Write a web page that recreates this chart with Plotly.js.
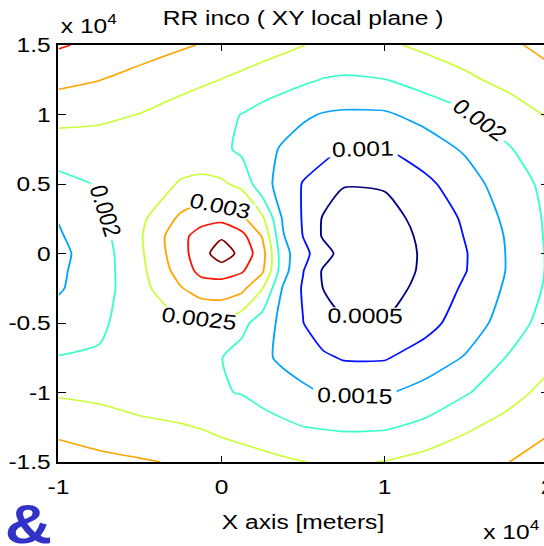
<!DOCTYPE html>
<html>
<head>
<meta charset="utf-8">
<script src="https://cdn.plot.ly/plotly-3.0.1.min.js"></script>
<style>
html, body { margin: 0; padding: 0; background: #ffffff; overflow: hidden; width: 544px; height: 546px; }
#plot { width: 480px; height: 546px; transform: scaleX(1.17); transform-origin: 0 0; }
</style>
</head>
<body>
<div id="plot"></div>
<script>
// Grid positions (meters)
const xMeters = [-10000, -7500, -5000, -2500, -1250, 0, 1250, 2500, 3750, 5000, 6250, 7500, 10000, 12500, 15000, 17500, 20000];
const yMeters = [-15000, -12500, -10000, -7500, -5000, -2500, -1250, 0, 1250, 2500, 5000, 7500, 10000, 12500, 15000];

// RR inco values, one row per y value (bottom to top)
const rrInco = [
  [0.00320, 0.00313, 0.00305, 0.00295, 0.00288, 0.00280, 0.00273, 0.00266, 0.00258, 0.00251, 0.00245, 0.00242, 0.00252, 0.00268, 0.00283, 0.00299, 0.00314],
  [0.00289, 0.00274, 0.00260, 0.00254, 0.00248, 0.00238, 0.00229, 0.00219, 0.00210, 0.00201, 0.00197, 0.00194, 0.00195, 0.00212, 0.00243, 0.00268, 0.00295],
  [0.00243, 0.00238, 0.00230, 0.00218, 0.00210, 0.00203, 0.00198, 0.00185, 0.00172, 0.00160, 0.00148, 0.00144, 0.00145, 0.00167, 0.00196, 0.00230, 0.00265],
  [0.00202, 0.00205, 0.00218, 0.00218, 0.00212, 0.00201, 0.00180, 0.00160, 0.00141, 0.00125, 0.00108, 0.00096, 0.00096, 0.00123, 0.00154, 0.00202, 0.00237],
  [0.00170, 0.00192, 0.00225, 0.00245, 0.00248, 0.00245, 0.00215, 0.00175, 0.00137, 0.00101, 0.00068, 0.00054, 0.00053, 0.00083, 0.00125, 0.00170, 0.00222],
  [0.00145, 0.00179, 0.00232, 0.00297, 0.00322, 0.00328, 0.00313, 0.00252, 0.00147, 0.00095, 0.00049, 0.00032, 0.00028, 0.00066, 0.00108, 0.00157, 0.00207],
  [0.00142, 0.00177, 0.00236, 0.00321, 0.00365, 0.00370, 0.00355, 0.00308, 0.00170, 0.00102, 0.00044, 0.00028, 0.00024, 0.00058, 0.00099, 0.00152, 0.00204],
  [0.00138, 0.00176, 0.00241, 0.00333, 0.00377, 0.00430, 0.00383, 0.00321, 0.00170, 0.00115, 0.00070, 0.00030, 0.00022, 0.00057, 0.00098, 0.00152, 0.00204],
  [0.00145, 0.00182, 0.00244, 0.00336, 0.00370, 0.00392, 0.00365, 0.00297, 0.00155, 0.00099, 0.00044, 0.00028, 0.00025, 0.00060, 0.00103, 0.00154, 0.00206],
  [0.00152, 0.00187, 0.00238, 0.00310, 0.00333, 0.00338, 0.00310, 0.00260, 0.00146, 0.00096, 0.00045, 0.00033, 0.00032, 0.00066, 0.00108, 0.00160, 0.00207],
  [0.00187, 0.00203, 0.00229, 0.00253, 0.00260, 0.00257, 0.00238, 0.00165, 0.00135, 0.00097, 0.00079, 0.00052, 0.00055, 0.00088, 0.00130, 0.00173, 0.00213],
  [0.00222, 0.00229, 0.00234, 0.00232, 0.00225, 0.00212, 0.00189, 0.00166, 0.00145, 0.00129, 0.00113, 0.00097, 0.00099, 0.00127, 0.00156, 0.00195, 0.00228],
  [0.00268, 0.00259, 0.00249, 0.00230, 0.00220, 0.00209, 0.00199, 0.00184, 0.00170, 0.00157, 0.00147, 0.00143, 0.00144, 0.00165, 0.00193, 0.00223, 0.00254],
  [0.00312, 0.00301, 0.00284, 0.00266, 0.00258, 0.00249, 0.00239, 0.00229, 0.00219, 0.00208, 0.00198, 0.00195, 0.00199, 0.00222, 0.00241, 0.00264, 0.00289],
  [0.00355, 0.00338, 0.00322, 0.00306, 0.00298, 0.00289, 0.00280, 0.00270, 0.00261, 0.00251, 0.00240, 0.00233, 0.00243, 0.00259, 0.00276, 0.00293, 0.00310]
];

// Contour levels and their line colours (jet)
const levelStart = 0.0005;
const levelEnd = 0.004;
const levelStep = 0.0005;
const levelColors = ['#000080', '#0012ff', '#00a4ff', '#36ffc8', '#c8ff36', '#ffa400', '#ff1200', '#800000'];

// Axis ticks
const xTickVals = [-10000, 0, 10000, 20000];
const xTickText = ['-1', '0', '1', '2'];
const yTickVals = [-15000, -10000, -5000, 0, 5000, 10000, 15000];
const yTickText = ['-1.5', '-1', '-0.5', '0', '0.5', '1', '1.5'];

const FONT = 'Liberation Sans, Arial, Helvetica, sans-serif';

const colorscale = levelColors.map((c, i) => [i / (levelColors.length - 1), c]);

const trace = {
  type: 'contour',
  x: xMeters,
  y: yMeters,
  z: rrInco,
  autocontour: false,
  contours: {
    start: levelStart,
    end: levelEnd,
    size: levelStep,
    coloring: 'lines',
    showlabels: true,
    labelformat: '.4~f',
    labelfont: { family: FONT, size: 21, color: '#000000' }
  },
  colorscale: colorscale,
  showscale: false,
  line: { width: 1.6, smoothing: 0.6 },
  hoverinfo: 'skip'
};

const axisCommon = {
  ticks: 'inside',
  ticklen: 6,
  tickwidth: 1,
  tickcolor: '#000000',
  showline: true,
  linecolor: '#000000',
  linewidth: 2.4,
  mirror: 'allticks',
  showgrid: false,
  zeroline: false,
  tickfont: { family: FONT, size: 21, color: '#000000' }
};

const layout = {
  width: 480,
  height: 546,
  margin: { l: 50, r: 12, t: 45, b: 84, pad: 0 },
  paper_bgcolor: '#ffffff',
  plot_bgcolor: '#ffffff',
  showlegend: false,
  font: { family: FONT, size: 21, color: '#000000' },
  title: {
    text: 'RR inco ( XY local plane )',
    x: 0.5, xref: 'paper', xanchor: 'center',
    y: 0.967, yref: 'container', yanchor: 'middle',
    font: { family: FONT, size: 21, color: '#000000' }
  },
  xaxis: Object.assign({}, axisCommon, {
    range: [-10000, 20000],
    tickmode: 'array',
    tickvals: xTickVals,
    ticktext: xTickText,
    ticklabelstandoff: 4,
    title: { text: 'X axis [meters]', standoff: 18, font: { family: FONT, size: 21, color: '#000000' } }
  }),
  yaxis: Object.assign({}, axisCommon, {
    range: [-15000, 15000],
    tickmode: 'array',
    tickvals: yTickVals,
    ticktext: yTickText
  }),
  annotations: [
    { text: 'x 10<sup>4</sup>', xref: 'paper', yref: 'paper', x: 0, y: 1.05, xanchor: 'left', yanchor: 'middle',
      showarrow: false, font: { family: FONT, size: 21, color: '#000000' } },
    { text: 'x 10<sup>4</sup>', xref: 'paper', yref: 'paper', x: 0.863, y: -0.163, xanchor: 'left', yanchor: 'middle',
      showarrow: false, font: { family: FONT, size: 21, color: '#000000' } },
    { text: '<b>&amp;</b>', xref: 'paper', yref: 'paper', x: -0.1155, y: -0.147, xanchor: 'left', yanchor: 'middle',
      showarrow: false, font: { family: FONT, size: 56, color: '#3232c8' } }
  ]
};

Plotly.newPlot('plot', [trace], layout, { staticPlot: true, displayModeBar: false });
</script>
</body>
</html>
